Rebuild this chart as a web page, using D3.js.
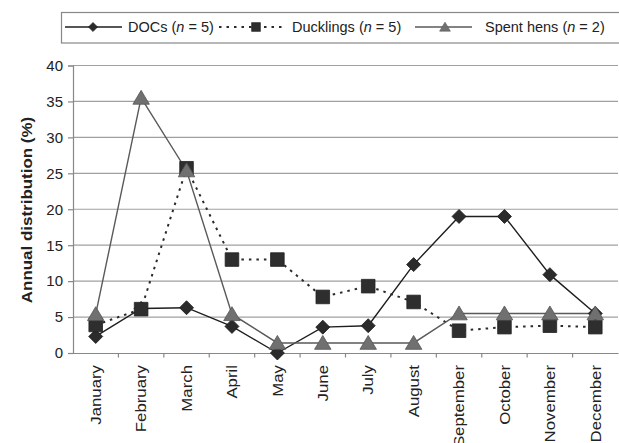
<!DOCTYPE html>
<html><head><meta charset="utf-8">
<script src="https://cdn.jsdelivr.net/npm/d3@7"></script>
<style>body{margin:0;background:#fff}svg{display:block;font-family:"Liberation Sans",Arial,sans-serif}</style>
</head><body><svg id="c" width="619" height="443"></svg>
<script>
const months = ["January","February","March","April","May","June","July","August","September","October","November","December"];
const docs = [2.3, 6.2, 6.3, 3.7, 0, 3.6, 3.8, 12.3, 19.0, 19.0, 10.9, 5.5];
const ducklings = [3.9, 6.1, 25.7, 13.0, 13.0, 7.8, 9.3, 7.1, 3.1, 3.6, 3.8, 3.6];
const spentHens = [5.4, 35.5, 25.4, 5.4, 1.4, 1.4, 1.4, 1.4, 5.5, 5.5, 5.5, 5.5];
const yTicks = [0, 5, 10, 15, 20, 25, 30, 35, 40];
const seriesNames = ["DOCs", "Ducklings", "Spent hens"];
const seriesN = [5, 5, 2];

const svg = d3.select("#c");
const L = 73, R = 618, T = 65.5, B = 353;
const x = d3.scaleBand().domain(months).range([L, R]);
const y = d3.scaleLinear().domain([0, 40]).range([B, T]);

// grid
svg.append("g").selectAll("line").data(yTicks.filter(d => d > 0)).join("line")
  .attr("x1", L).attr("x2", R).attr("y1", d => y(d)).attr("y2", d => y(d))
  .attr("stroke", "#a0a0a0").attr("stroke-width", 1.2);

// y axis
const ya = svg.append("g").attr("transform", `translate(${L},0)`)
  .call(d3.axisLeft(y).tickValues(yTicks).tickSize(5).tickPadding(5));
ya.select(".domain").attr("stroke", "#888").attr("stroke-width", 1.2);
ya.selectAll(".tick line").attr("stroke", "#888").attr("stroke-width", 1.2);
ya.selectAll("text").attr("font-size", 15).attr("fill", "#222").attr("font-family", "Liberation Sans, Arial");

// x axis
const xa = svg.append("g").attr("transform", `translate(0,${B})`)
  .call(d3.axisBottom(x).tickSize(0).tickFormat(""));
xa.select(".domain").attr("stroke", "#888").attr("stroke-width", 1.2);
svg.append("g").selectAll("line").data(months.slice(1)).join("line")
  .attr("x1", d => x(d)).attr("x2", d => x(d)).attr("y1", B).attr("y2", B + 4.5)
  .attr("stroke", "#888").attr("stroke-width", 1.2);
svg.append("g").selectAll("text").data(months).join("text")
  .attr("transform", d => `translate(${x(d) + x.bandwidth() / 2},${B + 12}) rotate(-90) scale(1.12,1)`)
  .attr("text-anchor", "end").attr("dy", "0.35em")
  .attr("font-size", 15).attr("fill", "#222").text(d => d);

// y label
svg.append("text")
  .attr("transform", `translate(27,${(117 + 303) / 2}) rotate(-90) scale(1.13,1)`)
  .attr("text-anchor", "middle").attr("dy", "0.35em")
  .attr("font-size", 15).attr("font-weight", "bold").attr("fill", "#222")
  .text("Annual distribution (%)");

const line = d3.line().x((d, i) => x(months[i]) + x.bandwidth() / 2).y(d => y(d));

const diamond = s => `M0,${-s}L${s},0L0,${s}L${-s},0Z`;
const square = s => `M${-s},${-s}H${s}V${s}H${-s}Z`;
const tri = s => `M0,${-s * 1.0}L${s * 1.1},${s * 0.85}L${-s * 1.1},${s * 0.85}Z`;

const styles = [
  {data: docs, stroke: "#1e1e1e", dash: null, sw: 1.4, shape: diamond, size: 7, fill: "#2b2b2b", mstroke: "#1a1a1a"},
  {data: ducklings, stroke: "#2a2a2a", dash: "2.5,5", sw: 2, shape: square, size: 6.8, fill: "#2e2e2e", mstroke: "#222"},
  {data: spentHens, stroke: "#5a5a5a", dash: null, sw: 1.4, shape: tri, size: 7.5, fill: "#707070", mstroke: "#555"}
];

styles.forEach(s => {
  svg.append("path").datum(s.data).attr("d", line).attr("fill", "none")
    .attr("stroke", s.stroke).attr("stroke-width", s.sw).attr("stroke-dasharray", s.dash);
});
styles.forEach(s => {
  svg.append("g").selectAll("path").data(s.data).join("path")
    .attr("transform", (d, i) => `translate(${x(months[i]) + x.bandwidth() / 2},${y(d)})`)
    .attr("d", s.shape(s.size)).attr("fill", s.fill).attr("stroke", s.mstroke).attr("stroke-width", 0.8);
});

// legend
const lg = svg.append("g");
lg.append("rect").attr("x", 61.5).attr("y", 12.5).attr("width", 570).attr("height", 30.5)
  .attr("fill", "#fff").attr("stroke", "#888").attr("stroke-width", 1.2);
const legItems = [
  {x1: 65, x2: 122, mx: 93, tx: 128},
  {x1: 219, x2: 283, mx: 256, tx: 292},
  {x1: 415, x2: 472, mx: 445, tx: 485}
];
const ly = 27;
legItems.forEach((it, k) => {
  const s = styles[k];
  lg.append("line").attr("x1", it.x1).attr("x2", it.x2).attr("y1", ly).attr("y2", ly)
    .attr("stroke", s.stroke).attr("stroke-width", s.sw).attr("stroke-dasharray", s.dash);
  lg.append("path").attr("transform", `translate(${it.mx},${ly})`).attr("d", s.shape(s.size * 0.65))
    .attr("fill", s.fill).attr("stroke", s.mstroke).attr("stroke-width", 0.6);
  const t = lg.append("text").attr("x", it.tx).attr("y", ly).attr("dy", "0.35em")
    .attr("font-size", 14.5).attr("fill", "#222");
  t.append("tspan").text(seriesNames[k] + " (");
  t.append("tspan").attr("font-style", "italic").text("n");
  t.append("tspan").text(" = " + seriesN[k] + ")");
});
</script></body></html>
